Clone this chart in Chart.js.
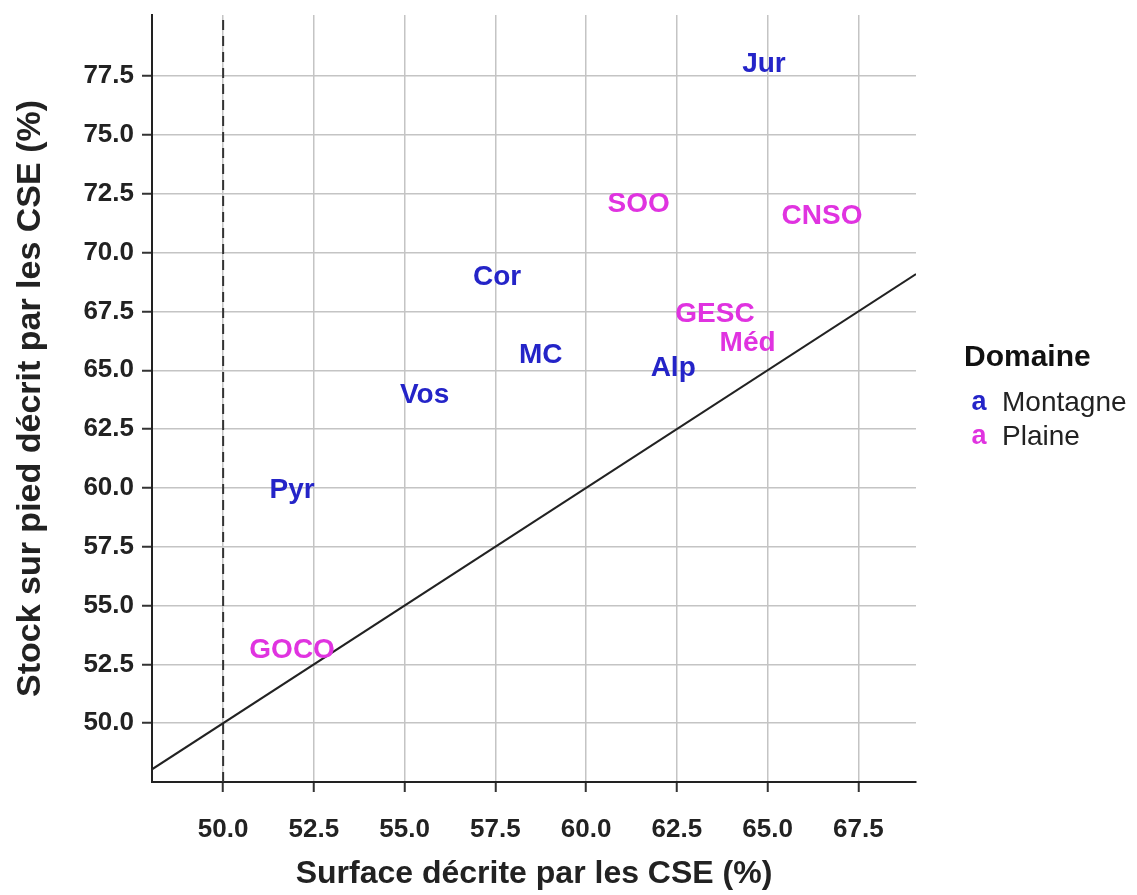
<!DOCTYPE html>
<html lang="fr">
<head>
<meta charset="utf-8">
<title>Stock sur pied et surface décrits par les CSE</title>
<script src="https://cdn.jsdelivr.net/npm/chart.js@4.4.1/dist/chart.umd.min.js"></script>
<style>
  html, body { margin: 0; padding: 0; background: #ffffff; }
  #chart { display: block; }
</style>
</head>
<body>
<canvas id="chart" width="1137" height="895"></canvas>
<script>
// --- données ---
// domaine Montagne
const montagneLabels = ["Jur", "Cor", "MC", "Alp", "Vos", "Pyr"]
const montagneSurface = [64.9, 57.55, 58.75, 62.4, 55.55, 51.9]
const montagneStock = [78.0, 68.95, 65.65, 65.1, 63.95, 59.9]

// domaine Plaine
const plaineLabels = ["SOO", "CNSO", "GESC", "Méd", "GOCO"]
const plaineSurface = [61.45, 66.5, 63.55, 64.45, 51.9]
const plaineStock = [72.05, 71.55, 67.4, 66.15, 53.1]

// graduations et limites des axes
const xTicks = [50, 52.5, 55, 57.5, 60, 62.5, 65, 67.5]
const yTicks = [50, 52.5, 55, 57.5, 60, 62.5, 65, 67.5, 70, 72.5, 75, 77.5]
const xLimits = [48.04, 69.09]
const yLimits = [47.5, 80.1]

// seuil vertical (tirets) à 50 %
const seuilSurface = 50

const legendTitle = "Domaine"
const legendNames = ["Montagne", "Plaine"]

const COLOR_MONTAGNE = "#2424c8"
const COLOR_PLAINE = "#e033e0"

const toPoints = (xs, ys) => xs.map((x, i) => ({ x: x, y: ys[i] }))

// dessine chaque étiquette de région à la position calculée par les échelles
const textLabelsPlugin = {
  id: "textLabels",
  afterDatasetsDraw(chart) {
    const ctx = chart.ctx
    ctx.save()
    ctx.font = "bold 28px 'Liberation Sans', Arial, sans-serif"
    ctx.textAlign = "center"
    ctx.textBaseline = "middle"
    chart.data.datasets.forEach((ds, i) => {
      if (!ds.textLabels) return
      const meta = chart.getDatasetMeta(i)
      ctx.fillStyle = ds.textColor
      meta.data.forEach((el, j) => {
        ctx.fillText(ds.textLabels[j], el.x, el.y)
      })
    })
    ctx.restore()
  }
}

// légende façon ggplot : titre + "a" coloré
const legendPlugin = {
  id: "domaineLegend",
  afterDraw(chart) {
    const ctx = chart.ctx
    const left = chart.chartArea.right + 48
    const top = 358
    ctx.save()
    ctx.textBaseline = "middle"
    ctx.textAlign = "left"
    ctx.fillStyle = "#111"
    ctx.font = "bold 30px 'Liberation Sans', Arial, sans-serif"
    ctx.fillText(legendTitle, left, top)

    const colors = [COLOR_MONTAGNE, COLOR_PLAINE]
    const rows = [403, 437]
    legendNames.forEach((name, i) => {
      const y = rows[i]
      ctx.font = "bold 27px 'Liberation Sans', Arial, sans-serif"
      ctx.fillStyle = colors[i]
      ctx.textAlign = "center"
      ctx.fillText("a", left + 15, y)
      ctx.font = "28px 'Liberation Sans', Arial, sans-serif"
      ctx.fillStyle = "#222"
      ctx.textAlign = "left"
      ctx.fillText(name, left + 38, y)
    })
    ctx.restore()
  }
}

const tickFont = { family: "'Liberation Sans', Arial, sans-serif", size: 26, weight: "bold" }

new Chart(document.getElementById("chart"), {
  type: "scatter",
  data: {
    datasets: [
      {
        label: legendNames[0],
        data: toPoints(montagneSurface, montagneStock),
        textLabels: montagneLabels,
        textColor: COLOR_MONTAGNE,
        pointRadius: 0,
        pointHoverRadius: 0
      },
      {
        label: legendNames[1],
        data: toPoints(plaineSurface, plaineStock),
        textLabels: plaineLabels,
        textColor: COLOR_PLAINE,
        pointRadius: 0,
        pointHoverRadius: 0
      },
      {
        // droite y = x
        type: "line",
        label: "y = x",
        data: toPoints(xLimits, xLimits),
        borderColor: "#222",
        borderWidth: 2,
        pointRadius: 0,
        fill: false
      },
      {
        type: "line",
        label: "seuil",
        data: toPoints([seuilSurface, seuilSurface], yLimits),
        borderColor: "#333",
        borderWidth: 2,
        borderDash: [10, 6],
        pointRadius: 0,
        fill: false
      }
    ]
  },
  options: {
    responsive: false,
    animation: false,
    events: [],
    layout: {
      padding: { left: 0, top: 15, right: 221, bottom: 0 }
    },
    scales: {
      x: {
        type: "linear",
        min: xLimits[0],
        max: xLimits[1],
        afterBuildTicks: (scale) => { scale.ticks = xTicks.map((v) => ({ value: v })) },
        afterFit: (scale) => {
          scale.height = 113
          scale.paddingLeft = 0
          scale.paddingRight = 0
        },
        ticks: {
          font: tickFont,
          color: "#222",
          padding: 22,
          callback: (v) => Number(v).toFixed(1)
        },
        grid: {
          color: "#c4c4c4",
          lineWidth: 1.5,
          tickLength: 10,
          tickColor: "#333",
          tickWidth: 2
        },
        border: { display: true, color: "#222", width: 2 },
        title: {
          display: true,
          text: "Surface décrite par les CSE (%)",
          font: { family: "'Liberation Sans', Arial, sans-serif", size: 32, weight: "bold" },
          color: "#222",
          padding: { top: 0, bottom: 2 }
        }
      },
      y: {
        type: "linear",
        min: yLimits[0],
        max: yLimits[1],
        afterBuildTicks: (scale) => { scale.ticks = yTicks.map((v) => ({ value: v })) },
        afterFit: (scale) => {
          scale.width = 152
          scale.paddingTop = 0
          scale.paddingBottom = 0
        },
        ticks: {
          font: tickFont,
          color: "#222",
          padding: 8,
          callback: (v) => Number(v).toFixed(1)
        },
        grid: {
          color: "#c4c4c4",
          lineWidth: 1.5,
          tickLength: 10,
          tickColor: "#333",
          tickWidth: 2
        },
        border: { display: true, color: "#222", width: 2 },
        title: {
          display: true,
          text: "Stock sur pied décrit par les CSE (%)",
          font: { family: "'Liberation Sans', Arial, sans-serif", size: 34, weight: "bold" },
          color: "#222",
          padding: { top: 10, bottom: 0 }
        }
      }
    },
    plugins: {
      legend: { display: false },
      tooltip: { enabled: false }
    }
  },
  plugins: [textLabelsPlugin, legendPlugin]
})
</script>
</body>
</html>
